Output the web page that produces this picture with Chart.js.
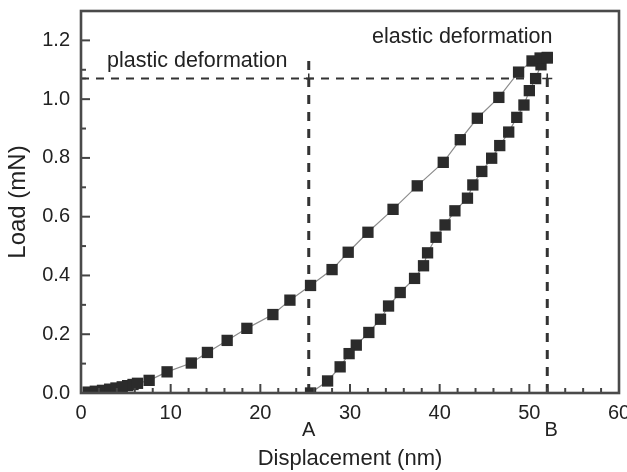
<!DOCTYPE html>
<html>
<head>
<meta charset="utf-8">
<script src="https://cdn.jsdelivr.net/npm/chart.js@4/dist/chart.umd.min.js"></script>
<style>
  html, body { margin: 0; padding: 0; background: #fff; }
  #wrap { width: 627px; height: 472px; }
</style>
</head>
<body>
<div id="wrap"><canvas id="chart" width="627" height="472"></canvas></div>
<script>
// loading branch (nm, mN)
const loadX = [0.8, 1.6, 2.4, 3.2, 3.9, 4.6, 5.2, 5.8, 6.3, 7.6, 9.6, 12.3, 14.1, 16.3, 18.5, 21.4, 23.3, 25.6, 28.0, 29.8, 32.0, 34.8, 37.5, 40.4, 42.3, 44.2, 46.6, 48.8, 50.3, 51.2, 52.0]
const loadY = [0.003, 0.006, 0.009, 0.013, 0.017, 0.021, 0.025, 0.029, 0.033, 0.043, 0.072, 0.102, 0.138, 0.179, 0.220, 0.267, 0.316, 0.366, 0.420, 0.479, 0.547, 0.625, 0.705, 0.785, 0.862, 0.935, 1.006, 1.092, 1.130, 1.140, 1.142]

// unloading branch
const unloadX = [52.0, 51.3, 50.7, 50.0, 49.4, 48.6, 47.7, 46.7, 45.8, 44.7, 43.7, 43.1, 41.7, 40.6, 39.6, 38.65, 38.2, 37.2, 35.6, 34.3, 33.4, 32.1, 30.7, 29.9, 28.9, 27.5, 25.6]
const unloadY = [1.140, 1.117, 1.070, 1.029, 0.980, 0.938, 0.888, 0.842, 0.799, 0.754, 0.708, 0.663, 0.620, 0.572, 0.530, 0.477, 0.433, 0.390, 0.342, 0.296, 0.251, 0.206, 0.163, 0.134, 0.089, 0.041, 0.000]

// reference marks
const markA = 25.4
const markB = 52.0
const plateauLoad = 1.07
const topA = 1.14

const font = '"Liberation Sans", Arial, sans-serif'
const ink = '#222'

const toPoints = (xs, ys) => xs.map((v, i) => ({ x: v, y: ys[i] }))

const decor = {
  id: 'decor',
  afterDatasetsDraw(chart) {
    const { ctx, chartArea: a, scales: { x, y } } = chart
    ctx.save()
    ctx.strokeStyle = '#444'
    ctx.lineWidth = 2
    for (let v = 0; v <= 60; v += 2) {
      const px = x.getPixelForValue(v)
      const len = v % 10 === 0 ? 9 : 5
      ctx.beginPath(); ctx.moveTo(px, a.bottom); ctx.lineTo(px, a.bottom - len); ctx.stroke()
    }
    for (let i = 0; i <= 13; i++) {
      const py = y.getPixelForValue(i / 10)
      const len = i % 2 === 0 ? 9 : 5
      ctx.beginPath(); ctx.moveTo(a.left, py); ctx.lineTo(a.left + len, py); ctx.stroke()
    }
    ctx.lineWidth = 2.6
    ctx.strokeStyle = '#4a4a4a'
    ctx.strokeRect(a.left, a.top, a.right - a.left, a.bottom - a.top)

    ctx.fillStyle = ink
    ctx.font = '21.5px ' + font
    ctx.textBaseline = 'alphabetic'
    ctx.textAlign = 'left'
    ctx.fillText('plastic deformation', x.getPixelForValue(2.9), y.getPixelForValue(1.11))
    ctx.fillText('elastic deformation', x.getPixelForValue(32.45), y.getPixelForValue(1.192))

    ctx.font = '20px ' + font
    ctx.textAlign = 'center'
    ctx.textBaseline = 'middle'
    ctx.fillText('A', x.getPixelForValue(markA), a.bottom + 37)
    ctx.fillText('B', x.getPixelForValue(markB) + 4, a.bottom + 37)
    ctx.restore()
  }
}

new Chart(document.getElementById('chart'), {
  type: 'scatter',
  data: {
    datasets: [
      {
        label: 'loading',
        data: toPoints(loadX, loadY),
        showLine: true,
        borderColor: '#8c8c8c',
        borderWidth: 1.2,
        pointStyle: 'rect',
        pointRadius: 8,
        pointBorderWidth: 0,
        pointBackgroundColor: '#2b2b2b',
      },
      {
        label: 'unloading',
        data: toPoints(unloadX, unloadY),
        showLine: true,
        borderColor: '#8c8c8c',
        borderWidth: 1.2,
        pointStyle: 'rect',
        pointRadius: 8,
        pointBorderWidth: 0,
        pointBackgroundColor: '#2b2b2b',
      },
      {
        label: 'plateau',
        data: [{ x: 0, y: plateauLoad }, { x: markA, y: plateauLoad }, { x: markB, y: plateauLoad }],
        showLine: true,
        borderColor: '#333',
        borderWidth: 2,
        borderDash: [8, 7],
        pointStyle: 'cross',
        pointRadius: 5,
        pointBorderWidth: 1.5,
        pointBorderColor: '#333',
      },
      {
        label: 'A',
        data: [{ x: markA, y: 0 }, { x: markA, y: topA }],
        showLine: true,
        borderColor: '#333',
        borderWidth: 3,
        borderDash: [9, 8],
        pointRadius: 0,
      },
      {
        label: 'B',
        data: [{ x: markB, y: 0 }, { x: markB, y: plateauLoad }],
        showLine: true,
        borderColor: '#333',
        borderWidth: 3,
        borderDash: [9, 8],
        pointRadius: 0,
      },
    ],
  },
  options: {
    responsive: false,
    animation: false,
    devicePixelRatio: 1,
    layout: { padding: { top: 11, right: 7, left: 0, bottom: 0 } },
    plugins: {
      legend: { display: false },
      tooltip: { enabled: false },
    },
    scales: {
      x: {
        type: 'linear',
        min: 0,
        max: 60,
        grid: { display: false, drawTicks: false },
        border: { display: false },
        ticks: { stepSize: 10, padding: 8, color: ink, font: { family: font, size: 20 } },
        title: { display: true, text: 'Displacement (nm)', color: ink, font: { family: font, size: 22 }, padding: 0 },
        afterFit: s => { s.height = 79; s.paddingLeft = 0; s.paddingRight = 0 },
      },
      y: {
        type: 'linear',
        min: 0,
        max: 1.3,
        grid: { display: false, drawTicks: false },
        border: { display: false },
        ticks: {
          stepSize: 0.2,
          includeBounds: false,
          padding: 11,
          color: ink,
          font: { family: font, size: 20 },
          callback: v => v.toFixed(1),
        },
        title: { display: true, text: 'Load (mN)', color: ink, font: { family: font, size: 24 }, padding: { top: 4 } },
        afterFit: s => { s.width = 81; s.paddingTop = 0; s.paddingBottom = 0 },
      },
    },
  },
  plugins: [decor],
})
</script>
</body>
</html>
